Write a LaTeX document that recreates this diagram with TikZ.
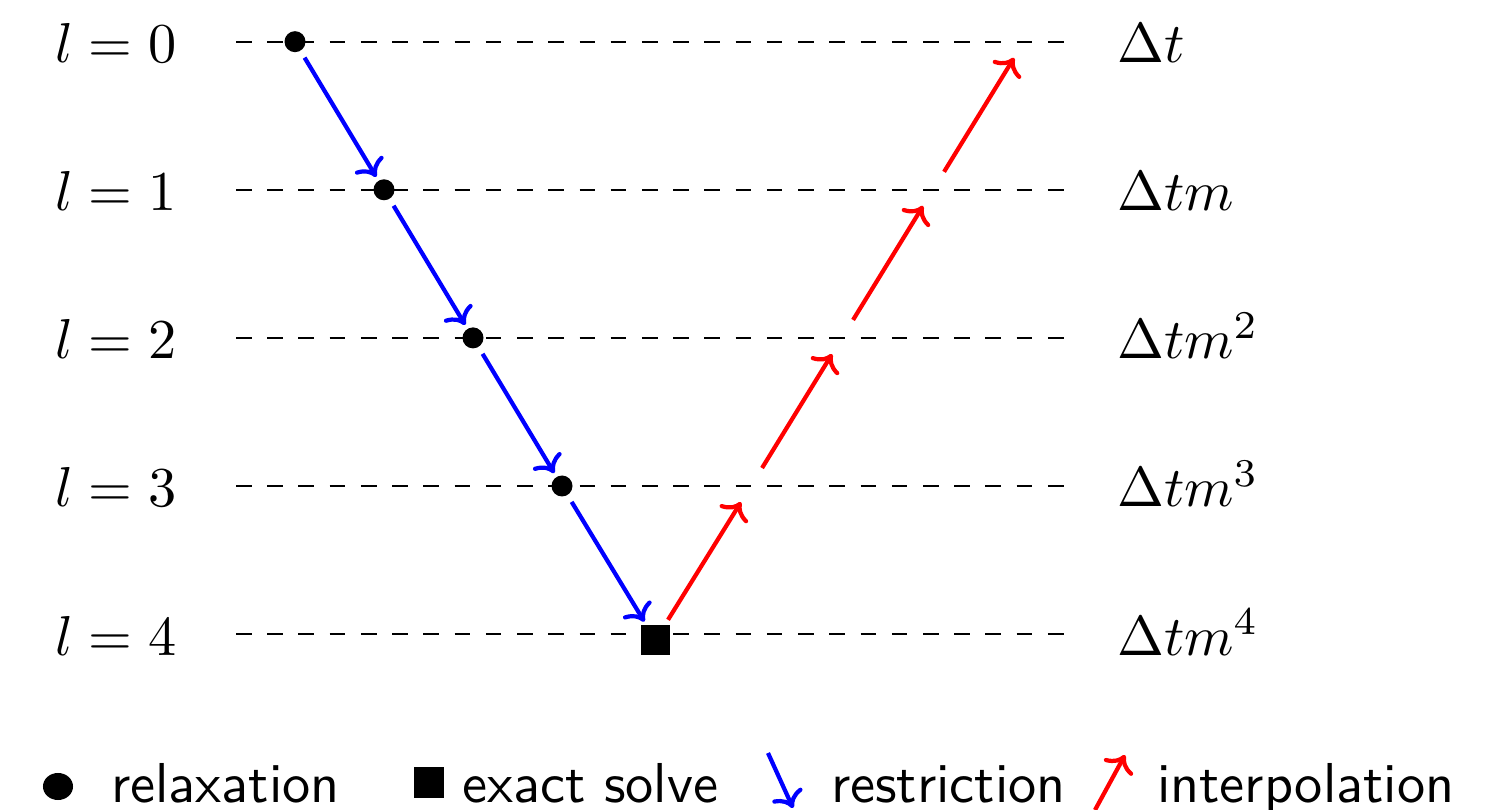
\documentclass[tikz,border=0pt]{standalone}
\usetikzlibrary{shapes.geometric,arrows.meta}
\begin{document}
\begin{tikzpicture}[x=0.01cm,y=-0.01cm, >={To[scale=1.05]},
  lev/.style={dash pattern=on 4.44pt off 4.44pt, line width=0.65pt},
  relax/.style={circle, fill=black, inner sep=0pt, outer sep=0pt, minimum size=5.97pt},
  exact/.style={rectangle, fill=black, inner sep=0pt, outer sep=0pt, minimum size=8.25pt},
  restr/.style={blue, line width=1.2pt, ->, shorten <=2.3pt, shorten >=1.3pt},
  interp/.style={red, line width=1.2pt, ->, shorten <=6pt, shorten >=5.4pt},
  lab/.style={inner sep=0pt, scale=1.6},
  leg/.style={inner sep=0pt, anchor=base west, scale=1.6, font=\sffamily}]
\useasboundingbox (0,0) rectangle (1512,810);
% levels
\foreach \k/\y in {0/41.7,1/189.8,2/337.9,3/486,4/634.1}{
  \coordinate (L\k) at (236,\y);
  \coordinate (R\k) at (1066,\y);
  \draw[lev] (L\k) -- (R\k);
  \node[lab, anchor=base] (ll\k) at (116,\y+21) {$l=\k$};
}
\node[lab, anchor=base west] (dt0) at (1116,62.7) {$\Delta t$};
\node[lab, anchor=base west] (dt1) at (1116,210.8) {$\Delta tm$};
\node[lab, anchor=base west] (dt2) at (1116,358.9) {$\Delta tm^2$};
\node[lab, anchor=base west] (dt3) at (1116,507) {$\Delta tm^3$};
\node[lab, anchor=base west] (dt4) at (1116,655.1) {$\Delta tm^4$};
% V-cycle
\node[relax] (b0) at (295,41.7) {};
\node[relax] (b1) at (384,189.8) {};
\node[relax] (b2) at (473,337.9) {};
\node[relax] (b3) at (562,486) {};
\node[exact] (s4) at (655.5,640) {};
\coordinate (r3) at (751,486);
\coordinate (r2) at (842,337.9);
\coordinate (r1) at (933,189.8);
\coordinate (r0) at (1024,41.7);
\draw[restr] (b0) -- (b1);
\draw[restr] (b1) -- (b2);
\draw[restr] (b2) -- (b3);
\draw[restr] (b3) -- (s4);
\draw[interp, shorten <=1.9pt] (s4) -- (r3);
\draw[interp] (r3) -- (r2);
\draw[interp] (r2) -- (r1);
\draw[interp] (r1) -- (r0);
% legend
\node[ellipse, fill=black, inner sep=0pt, minimum width=8.54pt, minimum height=7.68pt] (lc) at (58,786.5) {};
\node[leg] (t1) at (110,802) {relaxation};
\node[exact, minimum size=8.8pt] (lsq) at (429,782.5) {};
\node[leg] (t2) at (461,802) {exact solve};
\coordinate (ba) at (768,753);
\coordinate (bb) at (793,808);
\draw[blue, line width=1.2pt, ->] (ba) -- (bb);
\node[leg] (t3) at (830,802) {restriction};
\coordinate (ra) at (1095,810);
\coordinate (rb) at (1125,755);
\draw[red, line width=1.2pt, ->] (ra) -- (rb);
\node[leg] (t4) at (1156,802) {interpolation};
\end{tikzpicture}
\end{document}
